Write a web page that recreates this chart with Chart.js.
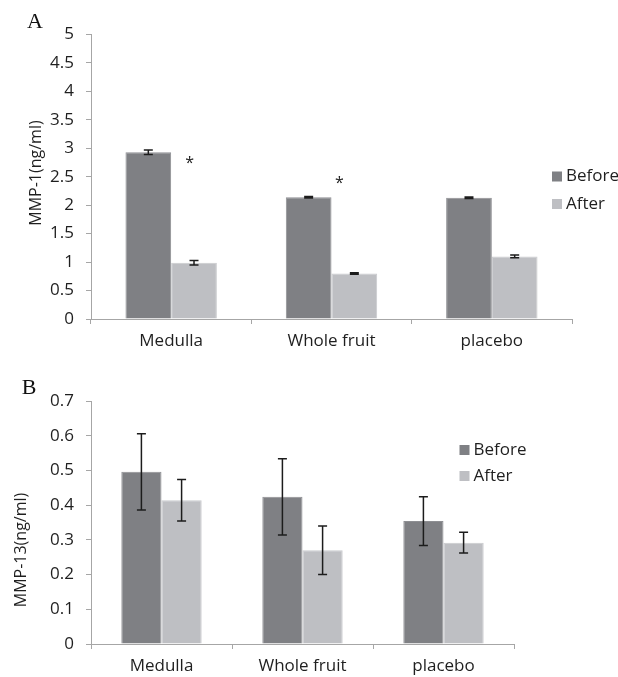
<!DOCTYPE html>
<html><head><meta charset="utf-8">
<script src="https://cdn.jsdelivr.net/npm/chart.js@4.4.0/dist/chart.umd.min.js"></script>
<style>
html,body{margin:0;padding:0;background:#fff;}
#wrap{position:relative;width:618px;height:677px;overflow:hidden;}
canvas{position:absolute;left:0;}
#cA{top:0;}
#cB{top:355px;}
</style></head><body>
<div id="wrap">
<canvas id="cA" width="618" height="355"></canvas>
<canvas id="cB" width="618" height="322"></canvas>
</div>
<script>
// ---- data ----
const categories = ['Medulla', 'Whole fruit', 'placebo'];
const seriesNames = ['Before', 'After'];
const mmp1Before = [2.93, 2.14, 2.13];
const mmp1After = [0.99, 0.80, 1.10];
const mmp1BeforeErr = [0.04, 0.012, 0.012];
const mmp1AfterErr = [0.04, 0.012, 0.025];
const mmp1Ticks = [0, 0.5, 1, 1.5, 2, 2.5, 3, 3.5, 4, 4.5, 5];
const mmp1Sig = ['*', '*', ''];
const mmp1SigY = [2.82, 2.46, null];
const mmp13Before = [0.496, 0.424, 0.354];
const mmp13After = [0.414, 0.270, 0.292];
const mmp13BeforeErr = [0.11, 0.11, 0.07];
const mmp13AfterErr = [0.06, 0.07, 0.03];
const mmp13Ticks = [0, 0.1, 0.2, 0.3, 0.4, 0.5, 0.6, 0.7];

// ---- styles ----
const FONT = 'Open Sans';
const FS = 17;
const TXT = '#1f1f1f';
const AXIS = '#a6a6a6';
const C_BEFORE = '#7f8084';
const C_AFTER = '#bebfc3';

const errorBars = {
  id: 'errorBars',
  afterDatasetsDraw(chart, args, opts) {
    const ctx = chart.ctx, y = chart.scales.y;
    chart.data.datasets.forEach((ds, i) => {
      if (!ds.errors) return;
      const meta = chart.getDatasetMeta(i);
      meta.data.forEach((bar, j) => {
        const v = ds.data[j], e = ds.errors[j];
        const x = bar.x, yt = y.getPixelForValue(v + e), yb = y.getPixelForValue(v - e);
        ctx.save();
        ctx.strokeStyle = opts.color; ctx.lineWidth = opts.width;
        ctx.beginPath();
        ctx.moveTo(x, yt); ctx.lineTo(x, yb);
        ctx.moveTo(x - opts.cap, yt); ctx.lineTo(x + opts.cap, yt);
        ctx.moveTo(x - opts.cap, yb); ctx.lineTo(x + opts.cap, yb);
        ctx.stroke();
        ctx.restore();
      });
    });
  }
};

const extras = {
  id: 'extras',
  afterDraw(chart, args, o) {
    const ctx = chart.ctx;
    ctx.save();
    // panel letter
    ctx.fillStyle = '#111';
    ctx.font = '22px "Liberation Serif"';
    ctx.textAlign = 'center'; ctx.textBaseline = 'middle';
    ctx.fillText(o.panel, o.panelX, o.panelY);
    // y title
    ctx.fillStyle = TXT;
    ctx.font = '16px "' + FONT + '"';
    ctx.translate(o.titleX, o.titleY);
    ctx.rotate(-Math.PI / 2);
    ctx.fillText(o.title, 0, 0);
    ctx.restore();
    // legend
    ctx.save();
    ctx.font = FS + 'px "' + FONT + '"';
    ctx.textAlign = 'left'; ctx.textBaseline = 'middle';
    chart.data.datasets.forEach((ds, i) => {
      const cy = o.legY + i * o.legGap;
      ctx.fillStyle = ds.backgroundColor;
      ctx.fillRect(o.legX, cy - 5, 10, 10);
      ctx.fillStyle = TXT;
      ctx.fillText(ds.label, o.legX + 14, cy);
    });
    ctx.restore();
    // significance marks
    if (o.sig) {
      const xs = chart.scales.x, ys = chart.scales.y;
      ctx.save();
      ctx.fillStyle = '#222';
      ctx.font = '16px "' + FONT + '"';
      ctx.textAlign = 'center'; ctx.textBaseline = 'alphabetic';
      o.sig.forEach((s, i) => {
        if (!s || o.sigY[i] == null) return;
        ctx.fillText(s, xs.getPixelForValue(i) + o.sigDX[i], ys.getPixelForValue(o.sigY[i]) + 9);
      });
      ctx.restore();
    }
  }
};

function makeChart(id, before, after, beforeErr, afterErr, ticks, pad, xH, ex) {
  return new Chart(document.getElementById(id), {
    type: 'bar',
    data: {
      labels: categories,
      datasets: [
        { label: seriesNames[0], data: before, errors: beforeErr, backgroundColor: C_BEFORE,
          borderColor: '#8e8f93', borderWidth: 1, categoryPercentage: 0.57, barPercentage: 1 },
        { label: seriesNames[1], data: after, errors: afterErr, backgroundColor: C_AFTER,
          borderColor: '#c9cacd', borderWidth: 1, categoryPercentage: 0.57, barPercentage: 1 }
      ]
    },
    options: {
      responsive: false,
      animation: false,
      layout: { padding: pad },
      plugins: {
        legend: { display: false },
        tooltip: { enabled: false },
        errorBars: { color: '#1c1c1c', width: 1.5, cap: 4.5 },
        extras: ex
      },
      scales: {
        x: {
          grid: { display: true, drawOnChartArea: false, drawTicks: true, tickLength: 5, color: AXIS, offset: true },
          border: { color: AXIS, width: 1 },
          ticks: { color: TXT, font: { family: FONT, size: FS }, padding: 7, maxRotation: 0 },
          afterFit(s) { s.height = xH; }
        },
        y: {
          min: ticks[0], max: ticks[ticks.length - 1],
          afterBuildTicks(s) { s.ticks = ticks.map(v => ({ value: v })); },
          grid: { drawOnChartArea: false, drawTicks: true, tickLength: 5, color: AXIS },
          border: { color: AXIS, width: 1 },
          ticks: { color: TXT, font: { family: FONT, size: FS }, padding: 12,
                   callback: (v) => String(v) },
          afterFit(s) { s.width = 91; }
        }
      }
    },
    plugins: [errorBars, extras]
  });
}

makeChart('cA', mmp1Before, mmp1After, mmp1BeforeErr, mmp1AfterErr, mmp1Ticks,
  { left: 0, top: 34.5, right: 46, bottom: 0 }, 36,
  { panel: 'A', panelX: 35, panelY: 22, title: 'MMP-1(ng/ml)', titleX: 36, titleY: 173,
    legX: 552, legY: 176.5, legGap: 27.5, sig: mmp1Sig, sigY: mmp1SigY, sigDX: [18.5, 8, 0] });

makeChart('cB', mmp13Before, mmp13After, mmp13BeforeErr, mmp13AfterErr, mmp13Ticks,
  { left: 0, top: 46, right: 104, bottom: 0 }, 33,
  { panel: 'B', panelX: 29, panelY: 33, title: 'MMP-13(ng/ml)', titleX: 21, titleY: 195,
    legX: 459.5, legY: 95, legGap: 26 });
</script>
</body></html>
